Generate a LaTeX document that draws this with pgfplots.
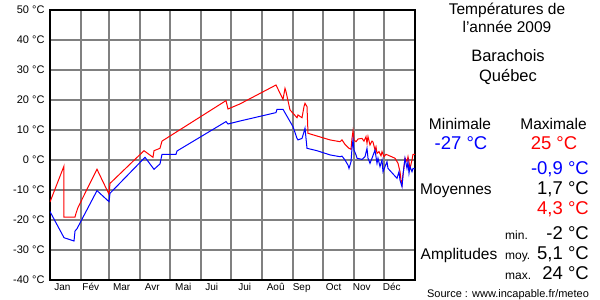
\documentclass[border=0pt]{standalone}
\usepackage{pgfplots}
\pgfplotsset{compat=1.18}
\usepackage{fontspec}
\setmainfont{Liberation Sans}
\begin{document}
\begin{tikzpicture}[x=1pt,y=1pt]
\path[use as bounding box] (0,0) rectangle (600,300);
\begin{axis}[
  at={(50pt,20pt)}, anchor=south west, scale only axis,
  width=365pt, height=270pt,
  xmin=0, xmax=365, ymin=-40, ymax=50,
  xtick={31,59,90,120,151,181,212,243,273,304,334},
  xticklabels={},
  ytick={-40,-30,-20,-10,0,10,20,30,40,50},
  yticklabels={-40 °C,-30 °C,-20 °C,-10 °C,0 °C,10 °C,20 °C,30 °C,40 °C,50 °C},
  grid=major,
  major grid style={draw={rgb,255:red,128;green,128;blue,128}, line width=1.2pt},
  tick style={draw=none},
  axis line style={black, line width=1.3pt},
  y tick label style={font=\fontsize{11}{13}\selectfont, xshift=-2pt},
  extra x ticks={12.5,40.8,71.7,102.3,133.3,161.7,194.7,225.7,251.7,283.7,311.7,341.7},
  extra x tick labels={Jan,Fév,Mar,Avr,Mai,Jui,Jui,Aoû,Sep,Oct,Nov,Déc},
  extra x tick style={grid=none, tick label style={font=\fontsize{10}{12}\selectfont}},
]
\addplot[red, line width=1pt] coordinates {
(0,-14) (14,-2) (14,-19) (25,-19) (26,-17.8) (28,-15.8) (47,-3.1) (59,-11.4) (60,-7.8)
(94,3.1) (103,0.9) (104,3.1) (110,3.9) (112,6.3) (176,19.8) (178,17) (190,18.7)
(226,25) (233,20.2) (235,23.9) (236,22.8) (240,16.7) (243,15.6) (247,14.1) (248,15)
(252,14.1) (254,17.8) (255,18.9) (257,17.8) (258,8.9) (267,8) (280,6.7) (290,6.1)
(292,6.7) (295,5.2) (299,3.9) (301,3.6) (302,7.2) (303,9.7) (304,6.7) (306,6.1) (308,7)
(312,7.2) (314,6.3) (316,7.8) (317,5.6) (318,7.8) (320,5) (322,6.3) (323,6) (325,3.3)
(326,4.4) (327,2.2) (329,2.8) (331,1.4) (332,2.8) (334,1.1) (336,1.9) (345,0.6)
(348,-1.1) (350,-3.9) (351,-6.7) (352,-8.3) (353,-5) (355,0.6) (357,-0.5) (358,1.1)
(359,-0.6) (360,-2.8) (362,0) (363,1.9) (365,1.9)
};
\addplot[blue, line width=1pt] coordinates {
(0,-17.2) (14,-25.9) (24,-27) (25,-23.7) (27,-22.9) (47,-10.2) (59,-13.9) (60,-11.1)
(95,0.9) (104,-3.1) (110,-1.3) (112,1.9) (126,1.9) (127,3) (176,12.8) (178,12) (190,13)
(226,15.8) (227,16.9) (233,16.9) (243,11.1) (247,7.2) (248,6.7) (252,7.2) (254,9.4)
(255,10.6) (257,3.9) (267,3.1) (280,1.7) (290,1.1) (292,1.3) (295,0) (298,-1.7)
(299,-2.8) (301,-0.6) (302,3.9) (303,6.7) (304,3.3) (306,1.7) (307,0.6) (312,0.2)
(315,1.1) (317,3.9) (318,0.6) (320,-1.1) (322,0.6) (325,3.3) (327,-1.1) (328,0.6)
(330,-2.2) (332,0) (333,-3.9) (335,-2.2) (337,-0.6) (338,-2.8) (347,-6.1) (349,-3.9)
(350,-6.7) (352,-8.9) (353,-5) (355,0.6) (357,-2.8) (358,-0.6) (359,-4.4) (360,-2.2)
(362,-3.9) (363,-2.8) (365,-3)
};
\end{axis}
% right panel
\node[anchor=base, font=\fontsize{15.5}{18}\selectfont] at (507,285) {Températures de};
\node[anchor=base, font=\fontsize{15.5}{18}\selectfont] at (507,267) {l'année 2009};
\node[anchor=base, font=\fontsize{16.5}{19}\selectfont] at (508,238) {Barachois};
\node[anchor=base, font=\fontsize{16.5}{19}\selectfont] at (508,218) {Québec};
\node[anchor=base, font=\fontsize{15.5}{18}\selectfont] at (460,170) {Minimale};
\node[anchor=base, font=\fontsize{15.5}{18}\selectfont] at (553.5,170) {Maximale};
\node[anchor=base, font=\fontsize{18.5}{21}\selectfont, text=blue] at (461,150) {-27 °C};
\node[anchor=base, font=\fontsize{18.5}{21}\selectfont, text=red] at (554,150) {25 °C};
\node[anchor=base east, font=\fontsize{18.5}{21}\selectfont, text=blue, inner sep=0pt] at (589,125) {-0,9 °C};
\node[anchor=base, font=\fontsize{15.5}{18}\selectfont] at (456,105) {Moyennes};
\node[anchor=base east, font=\fontsize{18.5}{21}\selectfont, inner sep=0pt] at (589,105) {1,7 °C};
\node[anchor=base east, font=\fontsize{18.5}{21}\selectfont, text=red, inner sep=0pt] at (589,85) {4,3 °C};
\node[anchor=base west, font=\fontsize{12}{14}\selectfont, inner sep=0pt] at (505,60) {min.};
\node[anchor=base east, font=\fontsize{18.5}{21}\selectfont, inner sep=0pt] at (589,60) {-2 °C};
\node[anchor=base, font=\fontsize{15.5}{18}\selectfont] at (459,40) {Amplitudes};
\node[anchor=base west, font=\fontsize{12}{14}\selectfont, inner sep=0pt] at (505,40) {moy.};
\node[anchor=base east, font=\fontsize{18.5}{21}\selectfont, inner sep=0pt] at (589,40) {5,1 °C};
\node[anchor=base west, font=\fontsize{12}{14}\selectfont, inner sep=0pt] at (505,20.5) {max.};
\node[anchor=base east, font=\fontsize{18.5}{21}\selectfont, inner sep=0pt] at (589,20) {24 °C};
\node[anchor=base, font=\fontsize{11}{13}\selectfont, inner sep=0pt] at (508,2.5) {Source : www.incapable.fr/meteo};
\end{tikzpicture}
\end{document}
